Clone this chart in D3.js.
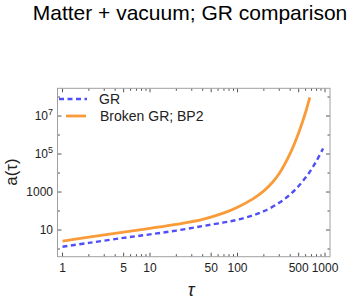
<!DOCTYPE html>
<html><head><meta charset="utf-8">
<script src="https://cdn.jsdelivr.net/npm/d3@7"></script>
<style>body{margin:0;background:#fff}svg{display:block;font-family:"Liberation Sans",Arial,sans-serif}</style>
</head><body><div id="chart"></div>
<script>
const titleText = "Matter + vacuum; GR comparison";
const xLabel = "τ";
const yLabel = "a(τ)";
const seriesNames = ["GR", "Broken GR; BP2"];
const tauGR = [1, 2, 5, 10, 20, 40, 70, 100, 150, 200, 300, 400, 500, 600, 700, 800, 950];
const aGR = [1.32, 2.09, 3.85, 5.89, 9.33, 16.2, 25.1, 34.7, 58.9, 97.7, 269, 741, 2089, 5754, 15849, 43652, 1.95e5];
const tauBP2 = [1, 2, 5, 10, 20, 40, 70, 100, 150, 200, 250, 300, 400, 500, 600, 670];
const aBP2 = [2.63, 4.17, 7.76, 12.3, 20.0, 36.3, 79.4, 158, 437, 1148, 3162, 9333, 1.07e5, 1.32e6, 1.58e7, 9.5e7];
const xTickLabels = [1, 5, 10, 50, 100, 500, 1000];
const xMinorTicks = [2,3,4,6,7,8,9,20,30,40,60,70,80,90,200,300,400,600,700,800,900];
const yTickExps = [1, 3, 5, 7];
const yTickLabels = ["10", "1000", "10|5", "10|7"];
const yMinorExps = [0, 2, 4, 6, 8];
const colors = ["#4F4FF5", "#FA9B3A"];

const W = 360, H = 302;
const L = 57.5, R = 330, T = 88.3, B = 256.7;
const svg = d3.select("#chart").append("svg").attr("width", W).attr("height", H);

const x = d3.scaleLog().domain([0.877, 1140]).range([L, R]);
const y = d3.scaleLog().domain([Math.pow(10, -0.405), Math.pow(10, 8.46)]).range([B, T]);

svg.append("text").attr("x", 190).attr("y", 20).attr("text-anchor", "middle")
  .attr("font-size", 21).attr("fill", "#000").text(titleText);

svg.append("defs").append("clipPath").attr("id", "clip")
  .append("rect").attr("x", L).attr("y", T).attr("width", R - L).attr("height", B - T);

const frameColor = "#a0a0a0";
const g = svg.append("g");
const tickCol = "#555";
xTickLabels.forEach(v => {
  const px = x(v);
  g.append("line").attr("x1", px).attr("x2", px).attr("y1", B).attr("y2", B - 4).attr("stroke", tickCol);
  g.append("line").attr("x1", px).attr("x2", px).attr("y1", T).attr("y2", T + 4).attr("stroke", tickCol);
  g.append("text").attr("x", px).attr("y", 272).attr("text-anchor", "middle").attr("font-size", 12).attr("fill", "#222").text(v);
});
xMinorTicks.forEach(v => {
  const px = x(v);
  g.append("line").attr("x1", px).attr("x2", px).attr("y1", B).attr("y2", B - 2.5).attr("stroke", tickCol);
  g.append("line").attr("x1", px).attr("x2", px).attr("y1", T).attr("y2", T + 2.5).attr("stroke", tickCol);
});
yTickExps.forEach((e, i) => {
  const py = y(Math.pow(10, e));
  g.append("line").attr("x1", L).attr("x2", L + 4).attr("y1", py).attr("y2", py).attr("stroke", tickCol);
  g.append("line").attr("x1", R).attr("x2", R - 4).attr("y1", py).attr("y2", py).attr("stroke", tickCol);
  const parts = yTickLabels[i].split("|");
  const t = g.append("text").attr("x", 53).attr("y", py + 4.3).attr("text-anchor", "end").attr("font-size", 12).attr("fill", "#222");
  t.append("tspan").text(parts[0]);
  if (parts[1]) t.append("tspan").attr("dy", -5).attr("font-size", 9).text(parts[1]);
});
yMinorExps.forEach(e => {
  const py = y(Math.pow(10, e));
  g.append("line").attr("x1", L).attr("x2", L + 2.5).attr("y1", py).attr("y2", py).attr("stroke", tickCol);
  g.append("line").attr("x1", R).attr("x2", R - 2.5).attr("y1", py).attr("y2", py).attr("stroke", tickCol);
});
g.append("rect").attr("x", L).attr("y", T).attr("width", R - L).attr("height", B - T)
  .attr("fill", "none").attr("stroke", frameColor).attr("stroke-width", 1);

const line = d3.line().x(d => x(d[0])).y(d => y(d[1])).curve(d3.curveCatmullRom.alpha(0.5));
const plot = svg.append("g").attr("clip-path", "url(#clip)");
plot.append("path").datum(tauBP2.map((t, i) => [t, aBP2[i]]))
  .attr("d", line).attr("fill", "none").attr("stroke", colors[1]).attr("stroke-width", 2.8);
plot.append("path").datum(tauGR.map((t, i) => [t, aGR[i]]))
  .attr("d", line).attr("fill", "none").attr("stroke", colors[0]).attr("stroke-width", 2.4)
  .attr("stroke-dasharray", "5,3.5");

// legend
svg.append("line").attr("x1", 59).attr("x2", 87).attr("y1", 99).attr("y2", 99)
  .attr("stroke", colors[0]).attr("stroke-width", 2.4).attr("stroke-dasharray", "5,3.5");
svg.append("text").attr("x", 99).attr("y", 104).attr("font-size", 14).attr("fill", "#222").text(seriesNames[0]);
svg.append("line").attr("x1", 66).attr("x2", 86).attr("y1", 116).attr("y2", 116)
  .attr("stroke", colors[1]).attr("stroke-width", 2.8);
svg.append("text").attr("x", 100).attr("y", 121).attr("font-size", 14).attr("fill", "#222").text(seriesNames[1]);

// axis labels
svg.append("text").attr("x", 191).attr("y", 296).attr("text-anchor", "middle")
  .attr("font-size", 18).attr("font-style", "italic").attr("fill", "#222").text(xLabel);
svg.append("text").attr("transform", "translate(17,172) rotate(-90)").attr("text-anchor", "middle")
  .attr("font-size", 17).attr("fill", "#222").text(yLabel);
</script></body></html>
